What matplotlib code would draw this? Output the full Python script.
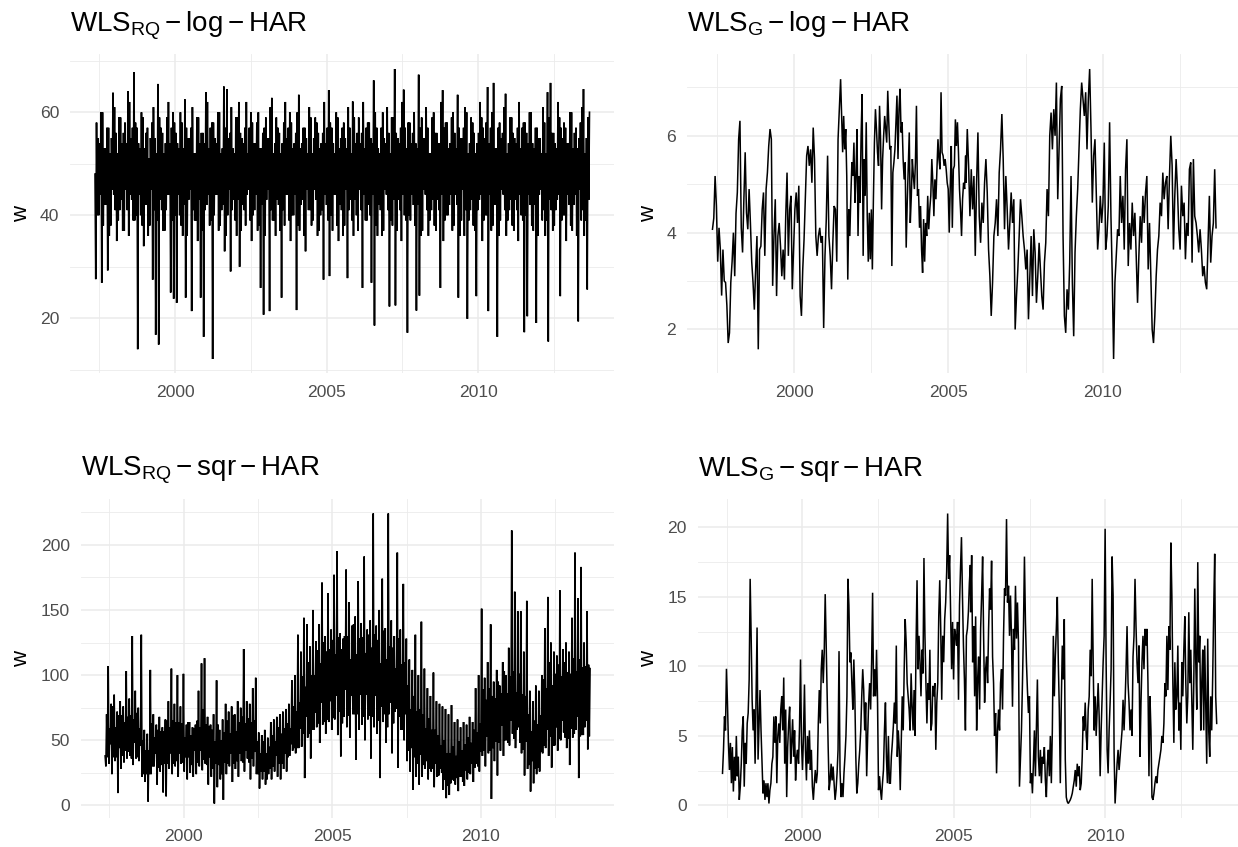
import numpy as np
import matplotlib
matplotlib.use("Agg")
import matplotlib.pyplot as plt
from matplotlib.ticker import FixedLocator, FixedFormatter, NullFormatter

plt.rcParams['font.family'] = ['Liberation Sans', 'DejaVu Sans']
plt.rcParams['mathtext.fontset'] = 'custom'
plt.rcParams['mathtext.rm'] = 'Liberation Sans'
plt.rcParams['mathtext.it'] = 'Liberation Sans:italic'
plt.rcParams['mathtext.bf'] = 'Liberation Sans:bold'

# ---------------- data (weights w) ----------------
# sample period (decimal years)
date_start = 1997.36
date_end = 2013.67

# WLS_RQ - log - HAR (dense daily series, sampled)
w_rq_log = [
    48, 27.6, 58, 40, 55, 40, 54, 44, 60, 26.9, 60, 38, 53, 42, 53, 42, 57, 29.3, 57, 36,
    52, 38, 55, 45, 63.8, 44, 61, 41, 56, 35, 52, 39, 59, 41, 59, 43, 54, 37, 56, 37,
    58, 45, 54, 41, 64.1, 36, 62, 44, 55, 43, 57, 39, 67.8, 39, 58, 40, 57, 14.0, 54, 44,
    53, 40, 60, 38, 59, 34, 53, 42, 56, 42, 57, 36, 51, 38, 55, 45, 58, 27.5, 61, 41,
    55, 16.8, 52, 39, 65.5, 14.9, 59, 43, 57, 41, 56, 37, 52, 37, 54, 41, 59, 44, 62, 44,
    54, 25.0, 57, 39, 60, 23.8, 58, 40, 56, 23.0, 54, 44, 53, 40, 60, 38, 58, 36, 53, 42,
    62.5, 24.0, 57, 36, 55, 43, 55, 45, 57, 21.4, 61, 41, 52, 39, 52, 39, 59, 35, 59, 43,
    54, 24.0, 56, 37, 56, 16.4, 54, 41, 63.9, 42, 62, 44, 53, 38, 57, 39, 58, 12.1, 58, 40,
    55, 44, 54, 44, 60, 37, 60, 38, 52, 41, 53, 42, 65, 33, 57, 36, 64.5, 40, 55, 45,
    56, 29.1, 61, 41, 53, 43, 52, 39, 59, 36, 59, 43, 62, 30, 56, 37, 55, 42, 54, 41,
    57, 38, 62, 44, 52, 45, 57, 39, 60, 35, 58, 40, 54, 41, 54, 44, 58, 37, 60, 38,
    53, 25.9, 53, 42, 56, 20.7, 57, 36, 59, 43, 55, 45, 55, 21.4, 61, 41, 62.8, 39, 52, 39,
    54, 36, 59, 43, 57, 42, 56, 37, 52, 24.0, 54, 41, 58, 38, 62, 44, 55, 44, 57, 39,
    60, 35, 58, 40, 53, 40, 54, 44, 56, 21.6, 60, 38, 63.4, 37, 53, 42, 54, 43, 57, 36,
    57, 33, 55, 45, 52, 41, 61, 41, 59, 38, 52, 39, 55, 45, 59, 43, 58, 36, 56, 37,
    53, 40, 54, 41, 56, 27.5, 62, 44, 54, 42, 57, 39, 64.3, 28.2, 58, 40, 57, 37, 54, 44,
    52, 44, 60, 38, 59, 35, 53, 42, 55, 41, 57, 36, 58, 38, 55, 45, 53, 27.8, 61, 41,
    57, 43, 52, 39, 62.1, 36, 59, 43, 54, 40, 56, 37, 59, 45, 54, 41, 56, 25.9, 62, 44,
    53, 39, 57, 39, 58, 42, 58, 40, 55, 26.9, 54, 44, 66.2, 18.6, 60, 38, 57, 36, 53, 42,
    52, 41, 57, 36, 60, 37, 55, 45, 54, 44, 61, 41, 56, 22.3, 52, 39, 59, 38, 59, 43,
    68.4, 22.5, 56, 37, 55, 43, 54, 41, 57, 35, 62, 44, 64.4, 40, 57, 39, 53, 17.2, 58, 40,
    58, 39, 54, 44, 56, 42, 60, 38, 54, 21.5, 53, 42, 67.3, 24.4, 57, 36, 59, 37, 55, 45,
    55, 44, 61, 41, 57, 36, 52, 39, 52, 41, 59, 43, 60, 38, 56, 37, 56, 43, 54, 41,
    54, 25.9, 62, 44, 64.3, 35, 57, 39, 58, 40, 58, 40, 53, 42, 54, 44, 59, 37, 60, 38,
    56, 44, 53, 42, 63.4, 24.0, 57, 36, 55, 39, 55, 45, 57, 36, 61, 41, 60, 19.9, 52, 39,
    54, 41, 59, 43, 58, 38, 56, 37, 52, 24.3, 54, 41, 56, 43, 62, 44, 59, 35, 57, 39,
    55, 40, 58, 40, 64.9, 21.4, 54, 44, 57, 37, 60, 38, 65.7, 42, 53, 42, 53, 16.4, 57, 36,
    58, 39, 55, 45, 56, 44, 61, 41, 63.6, 36, 52, 39, 54, 41, 59, 43, 59, 38, 56, 37,
    55, 43, 54, 41, 57, 35, 62, 44, 53, 40, 57, 39, 58, 17.3, 58, 40, 56, 20.4, 54, 44,
    60, 42, 60, 38, 54, 37, 53, 42, 57, 19.1, 57, 36, 55, 44, 55, 45, 52, 39, 61, 41,
    58, 36, 52, 39, 63.9, 15.5, 59, 43, 65.7, 41, 56, 37, 56, 38, 54, 41, 53, 43, 62, 44,
    59, 24.3, 57, 39, 55, 40, 58, 40, 57, 35, 54, 44, 54, 42, 60, 38, 60, 37, 53, 42,
    56, 44, 57, 36, 53, 19.4, 55, 45, 58, 39, 61, 41, 64.5, 36, 52, 39, 55, 25.6, 59, 43,
    60,
]

# WLS_G - log - HAR, three consecutive stretches
w_g_log_a_span = (1997.36, 2001.47)
w_g_log_a = [
    4.07, 4.3, 5.17, 4.55, 3.4, 4.1, 3.65, 2.7, 3.65, 3.0,
    2.97, 2.5, 1.72, 1.93, 2.97, 3.4, 4.0, 3.1, 4.4, 4.83,
    5.93, 6.31, 4.1, 3.59, 4.69, 5.66, 4.41, 4.07, 4.9, 4.2,
    3.4, 2.97, 2.41, 3.24, 3.93, 1.59, 3.65, 3.72, 4.48, 4.83,
    3.52, 4.9, 5.24, 5.79, 6.14, 5.93, 2.9, 3.93, 4.69, 2.69,
    3.93, 4.2, 3.72, 3.1, 3.65, 3.03, 4.34, 5.24, 3.52, 4.48,
    4.76, 2.83, 3.65, 4.48, 4.83, 4.2, 4.97, 2.69, 2.28, 3.24,
    3.86, 4.76, 5.59, 5.79, 5.38, 5.72, 5.03, 6.17, 5.52, 3.93,
    3.52, 3.93, 4.1, 3.79, 3.93, 2.03, 3.52, 4.28, 5.59, 3.93,
    3.52, 2.83, 3.79, 4.55, 4.48, 3.4, 5.93, 6.55,
]
w_g_log_b_span = (2001.51, 2005.56)
w_g_log_b = [
    7.17, 6.41, 5.66, 6.41, 5.72, 6.14, 5.17, 3.03, 4.48, 3.93,
    4.76, 5.45, 5.17, 5.86, 4.62, 5.17, 6.14, 3.93, 5.17, 4.62,
    6.0, 6.86, 3.52, 5.52, 4.76, 6.28, 4.34, 3.4, 4.41, 3.45,
    4.48, 3.24, 4.69, 5.86, 6.55, 6.14, 5.66, 5.38, 6.62, 5.93,
    4.48, 5.52, 6.0, 6.41, 6.14, 5.86, 6.93, 6.28, 5.72, 5.79,
    3.31, 5.24, 5.45, 5.72, 6.28, 6.83, 5.52, 6.55, 6.97, 6.07,
    6.28, 5.52, 5.1, 5.45, 3.69, 4.62, 5.38, 6.07, 4.2, 4.76,
    5.52, 5.17, 4.9, 5.45, 6.62, 4.76, 4.9, 4.1, 4.55, 3.65,
    3.17, 4.28, 3.4, 4.2, 3.93, 4.76, 4.07, 4.48, 4.76, 5.52,
    5.03, 4.34, 5.1, 4.69, 5.31, 5.93, 5.52, 5.31, 6.9, 5.66,
    5.59, 5.38, 5.52, 5.31, 5.03, 4.9, 4.0, 4.97, 5.79, 4.1,
    5.31, 5.38, 6.34, 5.79, 6.28, 5.66, 4.9, 4.48, 3.93, 4.69,
    5.03, 4.9, 5.59,
]
w_g_log_c_span = (2005.57, 2013.67)
w_g_log_c = [
    5.03, 6.14, 5.38, 4.34, 5.31, 4.48, 5.17, 3.52, 5.03, 6.07,
    4.34, 3.79, 4.62, 4.2, 5.03, 5.52, 4.83, 3.65, 3.1, 2.28,
    2.97, 3.93, 4.2, 4.69, 3.93, 5.24, 5.72, 6.45, 5.52, 4.07,
    5.17, 4.48, 3.65, 4.2, 4.83, 4.2, 4.69, 2.0, 2.69, 3.24,
    3.93, 4.69, 4.34, 3.93, 3.65, 3.24, 3.65, 2.21, 3.1, 3.93,
    2.69, 4.07, 3.59, 2.55, 3.1, 3.79, 3.24, 2.69, 2.41, 3.38,
    3.79, 4.9, 4.34, 6.0, 6.48, 5.72, 6.55, 6.0, 7.1, 4.69,
    5.72, 6.76, 7.03, 3.93, 2.28, 1.93, 2.83, 2.41, 3.38, 5.17,
    2.97, 1.86, 3.59, 4.34, 4.9, 5.72, 6.55, 7.1, 6.76, 6.41,
    6.9, 5.72, 6.76, 7.38, 6.14, 4.62, 5.59, 5.93, 4.76, 3.65,
    4.07, 4.76, 4.2, 4.62, 5.86, 3.65, 3.93, 4.55, 6.28, 4.34,
    3.1, 1.39, 2.97, 3.52, 4.07, 3.93, 5.17, 4.2, 4.76, 3.65,
    5.31, 5.93, 3.31, 4.2, 3.65, 4.62, 3.93, 4.41, 3.52, 2.55,
    3.52, 4.34, 3.79, 4.76, 4.2, 4.83, 5.17, 3.24, 4.2, 3.1,
    2.0, 1.72, 2.28, 3.1, 3.65, 3.93, 4.62, 4.34, 5.24, 4.69,
    5.03, 5.17, 4.07, 5.17, 6.0, 5.38, 3.65, 4.76, 5.52, 4.9,
    4.07, 3.65, 4.97, 4.34, 4.62, 3.45, 4.2, 3.93, 5.31, 5.45,
    3.38, 5.52, 4.34, 4.2, 3.93, 3.59, 4.07, 3.65, 3.1, 3.31,
    2.97, 2.83, 3.79, 4.76, 3.38, 3.93, 4.2, 5.31, 4.1,
]

# WLS_RQ - sqr - HAR (dense daily series, sampled)
w_rq_sqr = [
    38, 30, 70, 37, 107, 32, 59, 47, 78, 24, 76, 37, 85, 34, 60, 37, 72, 9.5, 69, 44,
    80, 28, 69, 38, 76, 33, 64, 42, 103, 36, 68, 41, 82, 38, 69, 36, 130, 31, 66, 48,
    88, 36, 71, 37, 75, 34, 59, 46, 131, 22, 50, 24, 58, 18, 42, 24, 55, 3, 42, 24,
    104, 24, 63, 30, 70, 30, 52, 40, 62, 16, 58, 29, 68, 26, 57, 31, 60, 10, 57, 32,
    66, 7, 65, 32, 80, 28, 60, 40, 105, 24, 65, 32, 78, 30, 64, 34, 100, 22, 64, 40,
    76, 32, 63, 33, 101, 26, 52, 37, 62, 20, 64, 37, 64, 25, 54, 31, 60, 22, 59, 42,
    62, 24, 65, 33, 88, 30, 60, 42, 109, 27, 74, 35, 113, 32, 62, 31, 68, 16, 61, 37,
    62, 22, 58, 28, 70, 1.5, 49, 32, 96, 14, 62, 31, 58, 20, 50, 24, 66, 4.3, 56, 33,
    78, 24, 65, 32, 72, 30, 55, 40, 76, 18, 69, 32, 70, 28, 57, 34, 80, 22, 64, 40,
    75, 34, 68, 33, 120, 26, 63, 42, 80, 36, 67, 33, 78, 20, 64, 36, 90, 30, 65, 41,
    98, 24, 49, 24, 56, 13, 40, 26, 54, 20, 49, 26, 58, 16, 40, 20, 52, 24, 45, 28,
    64, 20, 54, 30, 66, 26, 49, 38, 68, 22, 60, 32, 70, 20, 55, 32, 72, 28, 59, 40,
    74, 26, 63, 37, 78, 38, 59, 47, 96, 42, 76, 44, 100, 40, 72, 44, 131, 44, 79, 59,
    118, 45, 99, 55, 144, 21, 91, 68, 139, 52, 110, 55, 122, 36, 100, 58, 150, 58, 100, 71,
    126, 60, 119, 63, 139, 48, 109, 79, 171, 62, 125, 64, 130, 55, 118, 66, 163, 64, 120, 80,
    135, 58, 127, 67, 177, 66, 116, 84, 195, 54, 129, 72, 132, 37.6, 120, 63, 128, 68, 130, 89,
    181, 60, 130, 69, 156, 52, 112, 84, 138, 70, 139, 70, 145, 35, 116, 70, 172, 58, 128, 85,
    140, 62, 129, 68, 191, 50, 117, 85, 135, 66, 131, 69, 142, 36, 121, 68, 224, 60, 131, 84,
    138, 55, 127, 65, 150, 21, 109, 76, 174, 64, 134, 70, 136, 48, 112, 60, 224, 70, 122, 79,
    142, 40, 121, 63, 130, 72, 105, 74, 194, 29, 128, 68, 135, 58, 108, 58, 170, 50, 110, 70,
    128, 34, 92, 42, 112, 26, 74, 44, 104, 12, 84, 37, 131, 22, 72, 32, 100, 16, 74, 39,
    141, 22, 70, 31, 105, 28, 59, 34, 90, 20, 67, 28, 84, 26, 58, 28, 102, 14, 58, 32,
    80, 22, 54, 23, 78, 28, 46, 25, 76, 12, 50, 20, 74, 5.6, 40, 15, 70, 8, 40, 17,
    77, 20, 45, 19, 64, 16, 38, 21, 66, 11, 49, 22, 60, 22, 42, 18, 64, 15, 47, 27,
    62, 20, 52, 25, 68, 24, 48, 32, 64, 18, 58, 29, 90, 32, 56, 30, 100, 26, 63, 41,
    151, 38, 89, 42, 98, 30, 81, 53, 110, 40, 90, 42, 139, 5, 84, 44, 95, 34, 82, 49,
    104, 23, 95, 48, 92, 42, 86, 61, 110, 38, 103, 50, 100, 50, 86, 48, 121, 46, 99, 65,
    211, 55, 103, 51, 164, 44, 87, 58, 149, 60, 101, 48, 149, 40, 85, 43, 118, 23, 84, 49,
    157, 28, 70, 31, 88, 10.7, 57, 34, 80, 17, 65, 28, 92, 24, 62, 29, 88, 26, 69, 41,
    100, 40, 97, 46, 136, 44, 90, 58, 160, 38, 110, 53, 125, 29, 92, 46, 118, 46, 101, 60,
    115, 42, 108, 51, 165, 50, 99, 65, 120, 56, 110, 52, 125, 44, 102, 51, 118, 31, 101, 59,
    144, 52, 113, 55, 194, 58, 103, 68, 159, 21, 112, 53, 183, 54, 106, 54, 125, 60, 107, 65,
    149, 43, 108, 53, 105,
]

# WLS_G - sqr - HAR, two consecutive stretches
w_g_sqr_a_span = (1997.36, 2005.54)
w_g_sqr_a = [
    2.31, 4.0, 6.4, 5.4, 9.83, 7.4, 4.5, 2.55, 4.5, 1.6,
    4.2, 1.0, 3.5, 1.8, 5.0, 2.1, 3.5, 0.4, 1.35, 3.0,
    5.4, 6.4, 1.35, 4.5, 3.0, 5.9, 6.65, 9.06, 16.3, 12.2,
    7.6, 5.4, 6.9, 3.0, 7.85, 12.8, 3.3, 5.9, 8.3, 5.4,
    3.0, 0.87, 1.8, 0.4, 1.6, 0.6, 1.6, 0.14, 1.1, 1.6,
    3.0, 3.5, 6.4, 4.5, 6.4, 1.6, 5.0, 5.9, 4.5, 6.9,
    7.85, 5.4, 9.2, 3.0, 6.9, 0.6, 4.2, 5.9, 7.1, 3.0,
    4.5, 6.2, 3.5, 5.4, 1.8, 3.5, 4.0, 3.0, 5.7, 10.5,
    4.5, 2.55, 5.0, 8.7, 4.0, 1.8, 5.0, 3.0, 5.4, 2.55,
    4.0, 1.35, 0.4, 1.6, 2.55, 1.6, 2.31, 5.9, 8.3, 5.9,
    9.8, 11.2, 8.8, 11.0, 15.2, 11.5, 7.85, 4.2, 1.1, 1.8,
    3.0, 1.8, 2.8, 1.6, 0.4, 1.1, 2.31, 4.0, 11.1, 2.55,
    0.6, 1.6, 0.6, 2.31, 3.5, 5.0, 7.85, 16.3, 14.4, 10.3,
    11.0, 8.8, 6.9, 10.5, 7.85, 3.5, 0.87, 1.6, 3.0, 4.0,
    5.4, 7.85, 9.8, 8.3, 5.4, 7.4, 2.1, 5.0, 7.4, 8.8,
    6.9, 10.3, 15.3, 7.85, 9.8, 7.85, 11.2, 7.4, 1.1, 2.1,
    1.1, 0.4, 1.6, 2.55, 5.4, 7.4, 3.5, 1.6, 5.0, 1.6,
    1.6, 3.5, 4.5, 5.7, 7.4, 5.9, 11.5, 3.5, 5.4, 4.0,
    1.1, 4.5, 7.85, 5.4, 9.8, 13.4, 11.7, 8.8, 7.85, 6.9,
    5.4, 9.5, 7.1, 5.4, 8.3, 5.0, 11.5, 16.2, 9.8, 12.2,
    10.3, 7.85, 11.2, 9.5, 17.8, 12.2, 8.8, 5.9, 8.8, 7.6,
    11.2, 5.4, 5.9, 8.6, 7.85, 8.8, 4.0, 7.4, 8.8, 13.6,
    16.2, 12.7, 7.6, 12.2, 10.3, 13.4, 14.6, 16.8, 21.0, 16.3,
    18.0, 14.1, 9.8, 13.2, 9.06, 12.7, 12.2, 11.5, 13.2, 7.6,
    14.4, 17.0, 19.3, 15.1, 11.5, 9.06, 5.4, 12.2, 12.7, 13.9,
    16.0, 17.3,
]
w_g_sqr_b_span = (2005.55, 2013.67)
w_g_sqr_b = [
    13.9, 18.0, 10.3, 12.9, 7.85, 13.6, 5.4, 9.06, 10.7, 6.9,
    12.7, 15.1, 17.9, 12.2, 7.4, 9.8, 10.7, 8.8, 12.7, 15.6,
    14.1, 17.6, 10.7, 8.8, 5.0, 6.65, 2.31, 5.4, 6.9, 5.4,
    8.8, 9.8, 6.9, 12.2, 15.6, 15.1, 20.6, 14.6, 15.8, 12.2,
    15.1, 12.0, 7.1, 12.7, 11.2, 15.8, 12.0, 14.6, 11.7, 1.35,
    3.3, 5.4, 8.8, 12.7, 17.9, 13.2, 10.3, 8.3, 6.65, 7.85,
    1.6, 2.31, 0.87, 3.0, 5.4, 2.1, 5.4, 9.06, 3.5, 2.1,
    4.0, 1.6, 3.5, 3.0, 4.2, 1.8, 0.6, 3.0, 4.0, 2.1,
    5.0, 1.6, 5.4, 12.2, 7.85, 10.7, 12.7, 15.0, 10.3, 6.9,
    1.6, 7.4, 11.5, 9.06, 13.4, 3.3, 0.6, 0.27, 0.14, 0.27,
    0.4, 0.6, 0.87, 1.35, 1.8, 2.55, 1.35, 3.0, 2.1, 2.8,
    1.1, 1.6, 3.5, 6.4, 5.4, 7.4, 5.0, 4.0, 6.9, 7.85,
    11.2, 9.3, 16.3, 10.3, 5.4, 7.85, 5.0, 6.9, 8.8, 6.4,
    2.1, 5.4, 7.85, 10.3, 12.2, 19.9, 10.3, 4.0, 2.31, 5.4,
    7.4, 9.8, 17.9, 15.1, 3.8, 0.14, 1.6, 3.0, 4.0, 2.55,
    3.5, 4.5, 5.4, 7.6, 5.4, 7.4, 9.8, 12.9, 8.8, 7.4,
    5.4, 6.9, 5.0, 10.7, 12.2, 16.3, 12.9, 10.3, 8.8, 11.5,
    3.5, 7.4, 10.3, 12.2, 9.8, 12.7, 11.5, 12.7, 8.8, 2.1,
    7.85, 5.4, 0.6, 0.4, 0.87, 1.6, 2.1, 1.6, 2.55, 3.0,
    3.5, 4.0, 5.0, 4.5, 5.9, 8.8, 7.85, 12.2, 8.3, 12.9,
    11.2, 18.9, 15.1, 8.8, 4.5, 10.3, 6.9, 7.85, 11.5, 5.4,
    7.4, 4.0, 10.3, 7.85, 11.2, 13.6, 8.8, 5.9, 7.85, 13.9,
    8.8, 11.2, 7.4, 4.0, 8.8, 15.6, 10.3, 6.9, 17.5, 10.3,
    12.2, 5.4, 8.8, 11.2, 5.4, 11.5, 7.4, 3.0, 12.0, 5.4,
    3.5, 7.85, 5.4, 9.3, 14.1, 18.1, 7.85, 5.9,
]

x_major = [2000, 2005, 2010]
x_major_labels = ["2000", "2005", "2010"]
x_minor = [1997.5, 2002.5, 2007.5, 2012.5]

# ---------------- figure ----------------
W, H = 1238, 847
fig = plt.figure(figsize=(W / 100, H / 100), dpi=100)
fig.patch.set_facecolor("white")

GRID = "#EBEBEB"
TXT = "#4D4D4D"


def series(segments):
    xs, ys = [], []
    for (a, b), vals in segments:
        xs.append(np.linspace(a, b, len(vals)))
        ys.append(np.asarray(vals, dtype=float))
    return np.concatenate(xs), np.concatenate(ys)


panels = [
    dict(title=r"$\mathrm{WLS}_{\mathrm{RQ}} - \mathrm{log} - \mathrm{HAR}$",
         box=(70.3, 614.2, 54.5, 373.5), wx=22, lw=1.2,
         segs=[((date_start, date_end), w_rq_log)],
         major=[20, 40, 60], minor=[10, 30, 50, 70]),
    dict(title=r"$\mathrm{WLS}_{\mathrm{G}} - \mathrm{log} - \mathrm{HAR}$",
         box=(687.3, 1241.2, 54.5, 373.5), wx=649, lw=1.1,
         segs=[(w_g_log_a_span, w_g_log_a), (w_g_log_b_span, w_g_log_b),
               (w_g_log_c_span, w_g_log_c)],
         major=[2, 4, 6], minor=[1, 3, 5, 7]),
    dict(title=r"$\mathrm{WLS}_{\mathrm{RQ}} - \mathrm{sqr} - \mathrm{HAR}$",
         box=(80.9, 614.3, 499.0, 818.0), wx=22, lw=1.2,
         segs=[((date_start, date_end), w_rq_sqr)],
         major=[0, 50, 100, 150, 200], minor=[25, 75, 125, 175, 225]),
    dict(title=r"$\mathrm{WLS}_{\mathrm{G}} - \mathrm{sqr} - \mathrm{HAR}$",
         box=(697.8, 1241.4, 499.0, 818.0), wx=649, lw=1.1,
         segs=[(w_g_sqr_a_span, w_g_sqr_a), (w_g_sqr_b_span, w_g_sqr_b)],
         major=[0, 5, 10, 15, 20], minor=[2.5, 7.5, 12.5, 17.5]),
]

span = date_end - date_start
xlim = (date_start - 0.05 * span, date_end + 0.05 * span)

for p in panels:
    l, r, t, b = p["box"]
    ax = fig.add_axes([l / W, 1 - b / H, (r - l) / W, (b - t) / H])
    x, y = series(p["segs"])
    ax.plot(x, y, color="black", lw=p["lw"], solid_joinstyle="miter")
    lo, hi = y.min(), y.max()
    ax.set_ylim(lo - 0.05 * (hi - lo), hi + 0.05 * (hi - lo))
    ax.set_xlim(*xlim)

    ax.xaxis.set_major_locator(FixedLocator(x_major))
    ax.xaxis.set_major_formatter(FixedFormatter(x_major_labels))
    ax.xaxis.set_minor_locator(FixedLocator(x_minor))
    ax.xaxis.set_minor_formatter(NullFormatter())
    ax.yaxis.set_major_locator(FixedLocator(p["major"]))
    ax.yaxis.set_major_formatter(FixedFormatter([f"{v:g}" for v in p["major"]]))
    ax.yaxis.set_minor_locator(FixedLocator(p["minor"]))
    ax.yaxis.set_minor_formatter(NullFormatter())

    ax.grid(which="major", color=GRID, lw=1.15)
    ax.grid(which="minor", color=GRID, lw=0.6)
    ax.set_axisbelow(True)
    for s in ax.spines.values():
        s.set_visible(False)
    ax.tick_params(which="both", length=0, colors=TXT, labelsize=12.6)
    ax.tick_params(axis="x", pad=8.0)
    ax.tick_params(axis="y", pad=8.0)
    ax.set_facecolor("white")

    fig.text(l / W, 1 - (t - 23.5) / H, p["title"], ha="left", va="baseline",
             fontsize=20, color="black")
    fig.text(p["wx"] / W, 1 - ((t + b) / 2) / H, "w", rotation=90,
             ha="center", va="center", fontsize=16, color="black")

fig.savefig("out.png", dpi=100, facecolor="white")
